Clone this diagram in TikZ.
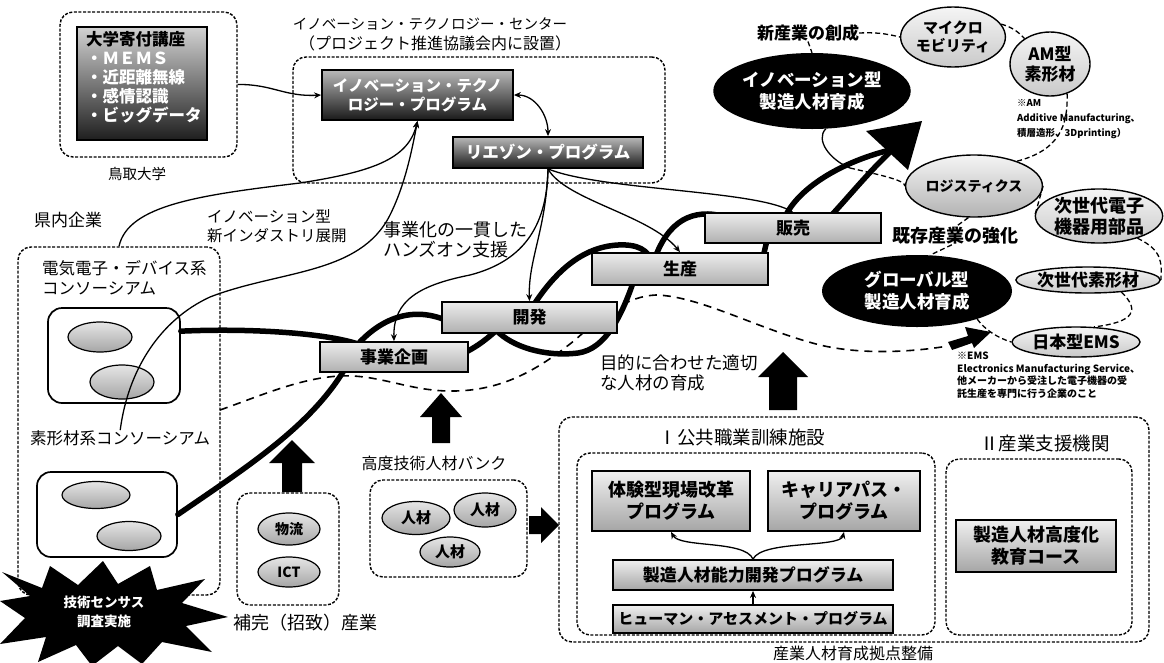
\documentclass[tikz,border=0pt]{standalone}
\usepackage{fontspec}
\setmainfont{Noto Sans CJK JP}
\usetikzlibrary{shapes.geometric,arrows.meta}
\pgfdeclarelayer{back}
\pgfsetlayers{back,main}
\newcommand\fsz[2]{\fontsize{#1}{#2}\selectfont}
\begin{document}
\begin{tikzpicture}[x=1pt,y=-1pt,
  every node/.style={inner sep=0pt, align=center},
  dbox/.style={draw=black, line width=1.4pt, dash pattern=on 3pt off 1.6pt, rounded corners=13pt},
  sbox/.style={draw=black, line width=1.7pt, rounded corners=14pt},
  proc/.style={draw=black, line width=1.8pt, top color=gray!15, bottom color=gray!62, font=\fsz{17}{20}\bfseries},
  darkbox/.style={draw=black, line width=1.8pt, top color=gray!55, bottom color=black!90, text=white, font=\fsz{15.5}{19}\bfseries},
  prog/.style={draw=black, line width=1.8pt, top color=gray!12, bottom color=gray!70, font=\fsz{18}{22}\bfseries},
  gball/.style={ellipse, draw=black, line width=1.2pt, top color=gray!20, bottom color=gray!70},
  lball/.style={ellipse, draw=black, line width=1.4pt, top color=gray!8, bottom color=gray!42},
  bball/.style={ellipse, fill=black, text=white, font=\fsz{17.5}{22}\bfseries},
  tline/.style={line width=1.3pt},
  arr/.style={-{Stealth[length=7pt,width=6pt]}},
  arrtwo/.style={{Stealth[length=7pt,width=6pt]}-{Stealth[length=7pt,width=6pt]}},
  rope/.style={line width=5.5pt, line cap=round},
  dline/.style={line width=1.6pt, dash pattern=on 8pt off 6pt},
  dsh/.style={line width=1.3pt, dash pattern=on 5pt off 3pt},
]
\useasboundingbox (0,0) rectangle (1164,662);

% ---------- Tottori University ----------
\node[dbox, minimum width=177pt, minimum height=145pt] (tu) at (148.5,84.5) {};
\node[draw=black, line width=1.8pt, top color=gray!35, bottom color=black!88, minimum width=130pt, minimum height=113pt] (chair) at (142,83.5) {};
\node[anchor=north west, align=left, font=\fsz{16.5}{19}\bfseries] (chairtxt) at (86,31)
  {大学寄付講座\\\textcolor{white}{・ＭＥＭＳ}\\\textcolor{white}{・近距離無線}\\\textcolor{white}{・感情認識}\\\textcolor{white}{・ビッグデータ}};
\node[font=\fsz{14.5}{16}] (tulbl) at (137,174) {鳥取大学};

% ---------- Innovation technology center ----------
\node[font=\fsz{14.5}{16}] (itctitle) at (430,24) {イノベーション・テクノロジー・センター};
\node[font=\fsz{16}{17}] (itcsub) at (435,43) {（プロジェクト推進協議会内に設置）};
\node[dbox, minimum width=372pt, minimum height=126pt] (itc) at (479,120) {};
\node[darkbox, minimum width=191pt, minimum height=50pt] (itp) at (417.5,95) {イノベーション・テクノ\\ロジー・プログラム};
\node[darkbox, minimum width=190pt, minimum height=31pt, font=\fsz{16.5}{19}\bfseries] (liaison) at (548,152.5) {リエゾン・プログラム};

% ---------- business process ----------
\node[proc, minimum width=148pt, minimum height=30pt] (kikaku) at (394,357) {事業企画};
\node[proc, minimum width=175pt, minimum height=31pt] (kaihatsu) at (529.5,317.5) {開発};
\node[proc, minimum width=176pt, minimum height=32pt] (seisan) at (680,269) {生産};
\node[proc, minimum width=176pt, minimum height=30pt] (hanbai) at (793,228) {販売};

% ---------- local companies ----------
\node[font=\fsz{17}{20}] (kennai) at (68,220) {県内企業};
\node[dbox, minimum width=202pt, minimum height=348pt] (kbox) at (119,421) {};
\node[anchor=west, align=left, font=\fsz{16.5}{20}] (denki) at (42,278) {電気電子・デバイス系\\コンソーシアム};
\node[sbox, minimum width=132pt, minimum height=95pt] (cons1) at (114,355.5) {};
\node[gball, minimum width=64pt, minimum height=30pt] (c1a) at (100,337) {};
\node[gball, minimum width=64pt, minimum height=34pt] (c1b) at (122,382) {};
\node[anchor=west, font=\fsz{16.5}{20}] (sokei) at (30,438) {素形材系コンソーシアム};
\node[sbox, minimum width=140pt, minimum height=85pt] (cons2) at (107,514.5) {};
\node[gball, minimum width=68pt, minimum height=27pt] (c2a) at (96,495) {};
\node[gball, minimum width=64pt, minimum height=29pt] (c2b) at (129,536) {};
\coordinate (dstart) at (220,410);

% ---------- census starburst ----------
\fill[black] (2,572) -- (42,588) -- (50,566) -- (78,585) -- (103,561) -- (118,584) -- (150,566)
  -- (157,590) -- (205,579) -- (182,603) -- (228,617) -- (186,626) -- (212,652) -- (162,642)
  -- (142,664) -- (118,646) -- (92,666) -- (76,645) -- (38,662) -- (46,637) -- (0,644)
  -- (25,618) -- (0,601) -- (30,596) -- cycle;
\node[text=white, font=\fsz{13.5}{19}\bfseries] (census) at (104,612) {技術センサス\\調査実施};

% ---------- complementary industries ----------
\node[dbox, minimum width=102pt, minimum height=112pt] (hokan) at (288,549) {};
\node[gball, minimum width=62pt, minimum height=32pt, font=\fsz{14}{16}\bfseries] (butsuryu) at (289,529) {物流};
\node[gball, minimum width=62pt, minimum height=30pt, font=\fsz{14}{16}\bfseries] (ict) at (289,572) {ICT};
\node[font=\fsz{18}{20}] (hokanlbl) at (305,623) {補完（招致）産業};
\fill (292,440) -- (315,463) -- (302,463) -- (302,492) -- (282,492) -- (282,463) -- (269,463) -- cycle;

% ---------- talent bank ----------
\node[font=\fsz{16}{19}] (banklbl) at (434,463) {高度技術人材バンク};
\node[dbox, minimum width=157pt, minimum height=97pt] (bank) at (448.5,528.5) {};
\node[gball, minimum width=68pt, minimum height=33pt, font=\fsz{15}{17}\bfseries] (jz1) at (416,518) {人材};
\node[gball, minimum width=62pt, minimum height=34pt, font=\fsz{15}{17}\bfseries] (jz2) at (485,510) {人材};
\node[gball, minimum width=60pt, minimum height=30pt, font=\fsz{15}{17}\bfseries] (jz3) at (450,552) {人材};
\fill (441,393) -- (462,417) -- (450,417) -- (450,443) -- (432,443) -- (432,417) -- (420,417) -- cycle;
\fill (529,516) -- (541,516) -- (541,507) -- (559,525) -- (541,543) -- (541,534) -- (529,534) -- cycle;

% ---------- training bases ----------
\node[anchor=west, align=left, font=\fsz{17.5}{20}] (mokuteki) at (600,373) {目的に合わせた適切\\な人材の育成};
\fill (783,352) -- (808,377) -- (797,377) -- (797,410) -- (769,410) -- (769,377) -- (758,377) -- cycle;
\node[dbox, minimum width=590pt, minimum height=225pt] (kyoten) at (854,529.5) {};
\node[font=\fsz{16}{18}] (kyotenlbl) at (853,653) {産業人材育成拠点整備};
\node[font=\fsz{18.5}{20}] (kunrenlbl) at (742,437) {Ⅰ公共職業訓練施設};
\node[font=\fsz{18.5}{20}] (shienlbl) at (1045,443) {Ⅱ産業支援機関};
\node[dbox, minimum width=358pt, minimum height=182pt] (kunren) at (756,544) {};
\node[dbox, minimum width=186pt, minimum height=176pt] (shien) at (1039,547) {};
\node[prog, minimum width=158pt, minimum height=60pt] (taiken) at (671,501) {体験型現場改革\\プログラム};
\node[prog, minimum width=152pt, minimum height=60pt] (career) at (844,501) {キャリアパス・\\プログラム};
\node[prog, minimum width=280pt, minimum height=30pt, font=\fsz{17}{20}\bfseries] (seizo) at (753,575) {製造人材能力開発プログラム};
\node[prog, minimum width=280pt, minimum height=28pt, font=\fsz{15}{18}\bfseries] (human) at (753,619) {ヒューマン・アセスメント・プログラム};
\node[prog, minimum width=160pt, minimum height=52pt] (koudo) at (1036,546) {製造人材高度化\\教育コース};
\draw[tline, arr] (seizo.north) .. controls (745,540) and (680,548) .. (taiken.south);
\draw[tline, arr] (seizo.north) .. controls (762,540) and (840,548) .. (career.south);
\draw[tline, arr] (human.north) -- (seizo.south);

% ---------- industry goals ----------
\node[font=\fsz{17}{20}\bfseries] (shinsangyo) at (808,33) {新産業の創成};
\node[lball, minimum width=100pt, minimum height=60pt, font=\fsz{15}{18}\bfseries] (micro) at (953,37) {マイクロ\\モビリティ};
\node[lball, minimum width=80pt, minimum height=64pt, font=\fsz{17}{20}\bfseries] (am) at (1050,64) {AM型\\素形材};
\node[anchor=north west, align=left, font=\fsz{9.5}{15}\bfseries] (amnote) at (1017,99) {※AM\\Additive Manufacturing、\\積層造形、3Dprinting）};
\node[bball, minimum width=190pt, minimum height=76pt] (innov) at (812,91) {イノベーション型\\製造人材育成};
\node[lball, minimum width=108pt, minimum height=62pt, font=\fsz{14}{17}\bfseries, bottom color=gray!60] (logi) at (974,186) {ロジスティクス};
\node[lball, minimum width=118pt, minimum height=48pt, font=\fsz{18}{21}\bfseries] (jisedai) at (1099,216) {次世代電子\\機器用部品};
\node[font=\fsz{18}{20}\bfseries] (kizon) at (955,236) {既存産業の強化};
\node[bball, minimum width=190pt, minimum height=72pt] (global) at (917,291) {グローバル型\\製造人材育成};
\node[lball, minimum width=140pt, minimum height=26pt, font=\fsz{17}{19}\bfseries] (sokei2) at (1088,280) {次世代素形材};
\node[lball, minimum width=128pt, minimum height=30pt, font=\fsz{17}{19}\bfseries] (ems) at (1076,342) {日本型EMS};
\node[anchor=north west, align=left, font=\fsz{10}{12.5}\bfseries] (emsnote) at (957,352)
  {※EMS\\Electronics Manufacturing Service、\\他メーカーから受注した電子機器の受\\託生産を専門に行う企業のこと};
\coordinate (join) at (850,168);

\draw[dsh] (shinsangyo.east) to[bend left=8] (micro.west);
\draw[dsh] (micro.15) to[bend left=15] (am.135);
\draw[dsh] (am.-60) .. controls (1068,125) and (1060,150) .. (logi.30);
\draw[dsh] (logi.east) -- (jisedai.west);
\draw[dsh] (logi.-100) -- (kizon.north);
\draw[dsh] (kizon.-110) -- (global.70);
\draw[dsh] (global.-25) .. controls (985,330) and (998,338) .. (ems.west);
\draw[dsh] (jisedai.-30) .. controls (1162,250) and (1162,262) .. (sokei2.east);
\draw[dsh] (sokei2.-20) .. controls (1140,310) and (1135,322) .. (ems.40);
\draw[dsh] (shinsangyo.south) -- (innov.north);

% ---------- braided development ropes and routes ----------
\begin{pgfonlayer}{back}
\fill[white] (0,0) rectangle (1164,662);
\draw[rope] (cons1.20) .. controls (250,328) and (325,333) .. (358,344)
  .. controls (380,320) and (412,304) .. (450,322) -- (496,330)
  .. controls (512,347) and (545,357) .. (578,353) .. controls (606,349) and (622,315) .. (634,280)
  -- (655,258) .. controls (668,222) and (692,207) .. (726,217) -- (783,222)
  .. controls (792,195) and (830,166) .. (886,151);
\draw[rope] (cons2.east) .. controls (250,465) and (312,425) .. (346,367) -- (466,352)
  .. controls (478,346) and (488,338) .. (498,329) -- (533,306)
  .. controls (555,272) and (582,247) .. (618,245) .. controls (638,244) and (648,250) .. (652,262)
  -- (760,270) -- (768,236) -- (827,220) .. controls (846,200) and (866,175) .. (890,152);
\draw[dline] (dstart) .. controls (260,396) and (300,378) .. (340,376)
  .. controls (380,374) and (410,392) .. (455,391) .. controls (505,390) and (540,368) .. (575,340)
  .. controls (603,315) and (628,296) .. (656,295) .. controls (700,296) and (760,330) .. (820,345)
  .. controls (862,355) and (912,352) .. (948,346);
\draw[tline] (innov.-70) .. controls (815,140) and (830,160) .. (join);
\draw[dsh] (join) .. controls (880,175) and (905,180) .. (logi.west);
\end{pgfonlayer}
\fill (866,131) -- (922,121) -- (908,170) -- cycle;
\fill (991,332) -- (974,348) -- (972,343) -- (952,350) -- (948,342) -- (968,336) -- (965,327) -- cycle;

% ---------- thin connectors ----------
\draw[tline, arr] (tu.east) .. controls (272,84) and (285,97) .. (itp.west);
\draw[tline, arrtwo] (itp.east) .. controls (535,95) and (548,115) .. (liaison.north);
\draw[tline, arr] (kbox.north) .. controls (128,205) and (200,195) .. (300,183)
  .. controls (370,172) and (408,160) .. (itp.south);
\draw[tline, arr] (sokei.north) .. controls (128,370) and (160,320) .. (210,297)
  .. controls (280,270) and (360,275) .. (390,215) .. controls (405,185) and (412,150) .. (itp.south);
\node[anchor=west, align=left, font=\fsz{15.5}{18.5}] (innovlbl) at (207,226) {イノベーション型\\新インダストリ展開};
\node[anchor=west, align=left, font=\fsz{18}{20}] (handson) at (383,240) {事業化の一貫した\\ハンズオン支援};
\draw[tline, arr] (liaison.south) .. controls (547,230) and (520,262) .. (470,275)
  .. controls (420,285) and (393,300) .. (kikaku.north);
\draw[tline, arr] (liaison.south) .. controls (546,230) and (528,260) .. (kaihatsu.north);
\draw[tline, arr] (liaison.south) .. controls (565,200) and (650,215) .. (seisan.north);
\draw[tline, arr] (liaison.south) .. controls (600,190) and (750,190) .. (hanbai.north);
\end{tikzpicture}
\end{document}
